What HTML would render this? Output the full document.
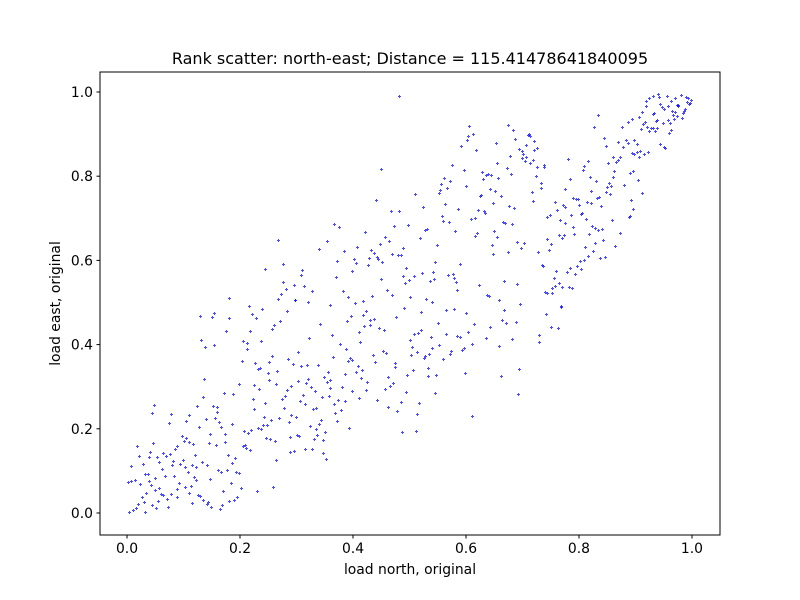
<!DOCTYPE html>
<html><head><meta charset="utf-8"><style>
html,body{margin:0;padding:0;background:#fff;}
svg{display:block;font-family:"DejaVu Sans","Liberation Sans",sans-serif;}
</style></head><body>
<svg id="chart" width="800" height="600" viewBox="0 0 800 600" xmlns="http://www.w3.org/2000/svg">
<rect x="0" y="0" width="800" height="600" fill="#fff"/>
<text x="410" y="64" font-size="16" text-anchor="middle" fill="#000">Rank scatter: north-east; Distance = 115.41478641840095</text>
<g id="points"></g>
<g id="axes"></g>
<text x="410" y="574" font-size="13.9" text-anchor="middle" fill="#000">load north, original</text>
<text transform="translate(60,303.5) rotate(-90)" font-size="13.9" text-anchor="middle" fill="#000">load east, original</text>
</svg>
<script>
var xTicks = [0, 0.2, 0.4, 0.6, 0.8, 1.0];
var yTicks = [0, 0.2, 0.4, 0.6, 0.8, 1.0];
var tickLabels = ["0.0", "0.2", "0.4", "0.6", "0.8", "1.0"];
var xs = [0.004,0.011,0.017,0.020,0.032,0.027,0.031,0.035,0.023,0.002,0.008,0.015,0.018,0.022,0.008,0.029,0.032,0.038,0.040,0.044,0.040,0.041,0.047,0.048,0.045,0.051,0.050,0.045,0.052,0.055,0.058,0.061,0.064,0.054,0.058,0.064,0.062,0.068,0.070,0.072,0.073,0.078,0.077,0.082,0.081,0.084,0.089,0.090,0.093,0.094,0.100,0.085,0.090,0.098,0.102,0.106,0.110,0.117,0.075,0.078,0.105,0.110,0.103,0.103,0.109,0.111,0.114,0.116,0.116,0.121,0.119,0.123,0.123,0.127,0.130,0.133,0.136,0.142,0.142,0.144,0.147,0.150,0.128,0.125,0.135,0.137,0.130,0.131,0.139,0.151,0.155,0.155,0.153,0.161,0.160,0.156,0.140,0.163,0.167,0.147,0.174,0.146,0.158,0.174,0.162,0.167,0.178,0.179,0.186,0.192,0.193,0.199,0.185,0.171,0.169,0.165,0.181,0.190,0.195,0.202,0.186,0.172,0.188,0.199,0.176,0.181,0.204,0.206,0.213,0.213,0.217,0.222,0.229,0.240,0.218,0.238,0.227,0.232,0.236,0.252,0.257,0.250,0.252,0.266,0.264,0.225,0.234,0.224,0.225,0.245,0.243,0.255,0.270,0.208,0.215,0.220,0.232,0.238,0.241,0.248,0.206,0.209,0.211,0.218,0.247,0.254,0.263,0.264,0.231,0.259,0.257,0.261,0.271,0.284,0.286,0.294,0.303,0.309,0.319,0.339,0.323,0.342,0.363,0.298,0.321,0.360,0.291,0.284,0.280,0.275,0.278,0.292,0.300,0.287,0.303,0.312,0.307,0.316,0.318,0.321,0.326,0.333,0.346,0.330,0.335,0.324,0.335,0.340,0.344,0.337,0.332,0.347,0.351,0.289,0.301,0.305,0.289,0.296,0.316,0.328,0.347,0.353,0.349,0.354,0.356,0.361,0.360,0.358,0.367,0.369,0.372,0.374,0.379,0.381,0.386,0.386,0.394,0.400,0.406,0.410,0.415,0.416,0.411,0.424,0.426,0.378,0.388,0.392,0.395,0.399,0.365,0.390,0.397,0.404,0.418,0.411,0.413,0.418,0.420,0.424,0.431,0.431,0.438,0.447,0.455,0.436,0.439,0.454,0.459,0.443,0.457,0.463,0.466,0.471,0.463,0.475,0.475,0.477,0.491,0.478,0.485,0.487,0.494,0.496,
0.483,0.510,0.525,0.498,0.531,0.528,0.519,0.489,0.485,0.549,0.546,0.494,0.489,0.509,0.500,0.493,0.523,0.542,0.544,0.537,0.502,0.530,0.540,0.569,0.578,0.579,0.583,0.591,0.585,0.581,0.586,0.571,0.560,0.559,0.564,0.553,0.555,0.556,0.567,0.562,0.572,0.576,0.592,0.603,0.605,0.607,0.613,0.618,0.597,0.601,0.610,0.617,0.622,0.626,0.628,0.629,0.631,0.636,0.640,0.645,0.643,0.652,0.648,0.657,0.656,0.654,0.663,0.633,0.634,0.620,0.617,0.650,0.656,0.647,0.649,0.624,0.638,0.642,0.659,0.668,0.675,0.666,0.670,0.682,0.677,0.686,0.673,0.681,0.678,0.675,0.684,0.687,0.694,0.700,0.702,0.707,0.705,0.700,0.707,0.711,0.714,0.712,0.721,0.726,0.722,0.714,0.719,0.726,0.739,0.739,0.725,0.733,0.733,0.718,0.719,0.691,0.703,0.698,0.691,0.696,0.728,0.735,0.737,0.744,0.748,0.751,0.744,0.749,0.758,0.762,0.767,0.765,0.770,0.774,0.777,0.776,0.772,0.786,0.790,0.795,0.799,0.801,0.804,0.806,0.813,0.790,0.792,0.781,0.785,0.777,0.808,0.809,0.816,0.820,0.815,0.822,0.822,0.831,0.840,0.836,0.833,0.818,0.824,0.829,0.834,0.841,0.829,0.812,0.826,0.817,0.810,0.803,0.797,0.804,0.793,0.785,0.779,0.760,0.757,0.765,0.770,0.758,0.753,0.740,0.745,0.754,0.769,0.783,0.788,0.838,0.847,0.843,0.859,0.864,0.873,0.834,0.827,0.845,0.849,0.853,0.861,0.870,0.878,0.877,0.888,0.894,0.884,0.888,0.899,0.903,0.894,0.898,0.903,0.909,0.916,0.923,0.907,0.896,0.891,0.905,0.880,0.873,0.870,0.866,0.863,0.861,0.854,0.857,0.850,0.849,0.855,0.912,0.893,0.896,0.891,0.889,0.907,0.912,0.911,0.914,0.917,0.921,0.925,0.929,0.936,0.932,0.939,0.919,0.919,0.925,0.932,0.940,0.942,0.956,0.971,0.981,0.990,0.994,0.992,1.000,0.997,0.995,0.963,0.944,0.948,0.951,0.958,0.974,0.977,0.976,0.965,0.970,0.967,0.974,0.983,0.988,0.986,0.985,0.932,0.933,0.939,0.937,0.949,0.958,0.969,0.962,0.964,0.960,0.944,0.951,0.953,
0.450,0.441,0.468,0.482,0.473,0.367,0.376,0.422,0.457,0.464,0.448,0.268,0.355,0.340,0.385,0.408,0.432,0.438,0.470,0.480,0.402,0.429,0.443,0.445,0.452,0.406,0.427,0.372,0.245,0.277,0.310,0.309,0.399,0.370,0.450,0.277,0.296,0.314,0.282,0.328,0.273,0.269,0.298,0.383,0.392,0.434,0.461,0.470,0.182,
0.521,0.565,0.580,0.601,0.668,0.742,0.769,0.551,0.615,0.643,0.664,0.671,0.689,0.751,0.763,0.731,0.730,0.509,0.516,0.521,0.565,0.604,0.539,0.585,0.590,0.636,0.682,0.502,0.505,0.541,0.553,0.611,0.660,0.514,0.503,0.535,0.527,0.528,0.574,0.572,0.594,0.597,0.560,0.507,0.533,0.533,0.548,0.599,0.663,0.695,0.546,0.693,0.517,0.514,0.611,0.512];
var ys = [0.001,0.006,0.011,0.021,0.002,0.037,0.025,0.047,0.068,0.073,0.074,0.078,0.157,0.135,0.111,0.116,0.092,0.092,0.075,0.066,0.131,0.144,0.165,0.256,0.237,0.082,0.054,0.018,0.010,0.028,0.057,0.044,0.041,0.132,0.120,0.141,0.104,0.086,0.134,0.032,0.013,0.044,0.140,0.123,0.112,0.086,0.036,0.055,0.070,0.116,0.125,0.150,0.158,0.181,0.169,0.177,0.167,0.163,0.213,0.234,0.218,0.232,0.108,0.060,0.097,0.047,0.063,0.113,0.023,0.137,0.084,0.078,0.107,0.041,0.039,0.120,0.030,0.113,0.021,0.025,0.080,0.013,0.203,0.253,0.274,0.318,0.467,0.410,0.393,0.465,0.473,0.398,0.253,0.251,0.239,0.225,0.222,0.214,0.203,0.186,0.186,0.165,0.161,0.167,0.101,0.097,0.101,0.137,0.118,0.130,0.097,0.094,0.070,0.051,0.018,0.009,0.028,0.030,0.037,0.059,0.211,0.284,0.282,0.306,0.432,0.462,0.360,0.408,0.403,0.389,0.491,0.472,0.462,0.484,0.432,0.408,0.356,0.341,0.344,0.358,0.372,0.332,0.315,0.336,0.306,0.303,0.294,0.270,0.246,0.260,0.227,0.220,0.225,0.194,0.189,0.196,0.201,0.199,0.208,0.208,0.158,0.161,0.154,0.149,0.177,0.175,0.170,0.125,0.051,0.061,0.436,0.446,0.455,0.479,0.365,0.353,0.382,0.349,0.351,0.351,0.415,0.448,0.422,0.504,0.500,0.493,0.301,0.292,0.277,0.270,0.249,0.232,0.227,0.215,0.313,0.280,0.265,0.258,0.308,0.318,0.299,0.289,0.275,0.246,0.249,0.206,0.199,0.211,0.220,0.184,0.175,0.173,0.192,0.180,0.184,0.182,0.144,0.146,0.151,0.151,0.142,0.127,0.322,0.310,0.334,0.314,0.296,0.277,0.258,0.237,0.218,0.268,0.244,0.299,0.329,0.265,0.201,0.289,0.334,0.348,0.320,0.339,0.272,0.291,0.310,0.401,0.389,0.360,0.367,0.363,0.370,0.455,0.467,0.498,0.503,0.429,0.405,0.470,0.443,0.479,0.458,0.446,0.460,0.439,0.434,0.375,0.358,0.384,0.379,0.268,0.294,0.322,0.301,0.308,0.251,0.356,0.346,0.465,0.486,0.241,0.263,0.192,0.287,0.327,
0.990,0.757,0.726,0.683,0.674,0.671,0.652,0.629,0.612,0.636,0.595,0.581,0.562,0.562,0.552,0.546,0.569,0.572,0.555,0.550,0.512,0.507,0.500,0.564,0.567,0.557,0.548,0.591,0.529,0.669,0.721,0.690,0.693,0.705,0.733,0.759,0.766,0.781,0.771,0.795,0.788,0.826,0.871,0.885,0.895,0.919,0.899,0.861,0.814,0.776,0.698,0.700,0.719,0.752,0.755,0.809,0.793,0.802,0.805,0.802,0.769,0.764,0.735,0.795,0.830,0.878,0.752,0.716,0.712,0.664,0.657,0.669,0.655,0.636,0.614,0.541,0.517,0.515,0.505,0.550,0.619,0.690,0.688,0.686,0.728,0.723,0.819,0.805,0.847,0.921,0.909,0.887,0.864,0.859,0.852,0.845,0.836,0.843,0.874,0.897,0.895,0.900,0.883,0.866,0.861,0.829,0.838,0.821,0.826,0.821,0.800,0.783,0.771,0.762,0.740,0.643,0.640,0.629,0.543,0.496,0.619,0.588,0.586,0.650,0.624,0.638,0.702,0.707,0.738,0.719,0.695,0.660,0.653,0.660,0.688,0.726,0.731,0.707,0.747,0.745,0.745,0.731,0.710,0.712,0.698,0.679,0.662,0.840,0.793,0.769,0.814,0.824,0.835,0.797,0.738,0.736,0.764,0.788,0.728,0.750,0.747,0.662,0.681,0.676,0.672,0.674,0.641,0.631,0.621,0.610,0.600,0.598,0.586,0.579,0.567,0.581,0.572,0.574,0.557,0.545,0.536,0.538,0.534,0.524,0.522,0.522,0.491,0.536,0.534,0.605,0.607,0.648,0.695,0.633,0.664,0.945,0.916,0.890,0.871,0.830,0.845,0.880,0.868,0.916,0.928,0.935,0.885,0.878,0.885,0.875,0.854,0.852,0.857,0.859,0.852,0.857,0.845,0.812,0.807,0.790,0.778,0.845,0.838,0.833,0.812,0.797,0.783,0.776,0.774,0.762,0.757,0.759,0.743,0.721,0.704,0.702,0.940,0.952,0.911,0.923,0.928,0.916,0.907,0.914,0.907,0.914,0.914,0.966,0.978,0.985,0.990,0.993,0.988,0.990,0.985,0.992,0.987,0.985,0.975,0.980,0.973,0.971,0.978,0.971,0.964,0.959,0.966,0.968,0.968,0.966,0.954,0.952,0.945,0.942,0.937,0.959,0.954,0.949,0.947,0.950,0.933,0.931,0.926,0.933,0.935,0.926,0.909,0.902,0.876,0.868,0.866,
0.816,0.743,0.715,0.715,0.681,0.686,0.679,0.667,0.655,0.645,0.638,0.648,0.645,0.626,0.622,0.631,0.624,0.617,0.614,0.612,0.603,0.605,0.607,0.603,0.595,0.593,0.588,0.598,0.579,0.591,0.576,0.565,0.574,0.560,0.555,0.548,0.541,0.539,0.531,0.526,0.519,0.508,0.505,0.525,0.512,0.515,0.529,0.517,0.510,
0.477,0.481,0.484,0.474,0.481,0.472,0.489,0.451,0.448,0.441,0.458,0.451,0.453,0.441,0.439,0.422,0.405,0.424,0.427,0.434,0.424,0.429,0.417,0.420,0.417,0.415,0.413,0.410,0.394,0.391,0.398,0.401,0.396,0.382,0.374,0.377,0.367,0.371,0.384,0.377,0.386,0.391,0.365,0.339,0.344,0.325,0.327,0.332,0.325,0.341,0.284,0.282,0.260,0.234,0.230,0.194];

var L = 100, R = 720, T = 72, B = 535;
var xMin = -0.0478, xMax = 1.0496, yMin = -0.0523, yMax = 1.0475;
function sx(v){ return L + (v - xMin) / (xMax - xMin) * (R - L); }
function sy(v){ return B - (v - yMin) / (yMax - yMin) * (B - T); }
var NS = "http://www.w3.org/2000/svg";
var pg = document.getElementById("points");
var n = Math.min(xs.length, ys.length);
for (var i = 0; i < n; i++) {
  var cx = Math.floor(sx(xs[i])) + 0.5, cy = Math.floor(sy(ys[i])) + 0.5;
  var p = document.createElementNS(NS, "path");
  p.setAttribute("d", "M" + (cx - 1.5) + " " + cy + "h3M" + cx + " " + (cy - 1.5) + "v3");
  p.setAttribute("stroke", "#0000ff");
  p.setAttribute("stroke-opacity", "0.7");
  p.setAttribute("stroke-width", "1");
  p.setAttribute("fill", "none");
  
  
  pg.appendChild(p);
}
var ag = document.getElementById("axes");
var frame = document.createElementNS(NS, "rect");
frame.setAttribute("x", L); frame.setAttribute("y", T);
frame.setAttribute("width", R - L); frame.setAttribute("height", B - T);
frame.setAttribute("fill", "none"); frame.setAttribute("stroke", "#000"); frame.setAttribute("stroke-width", "1");


ag.appendChild(frame);
for (var j = 0; j < xTicks.length; j++) {
  var tx = sx(xTicks[j]);
  var tl = document.createElementNS(NS, "line");
  tl.setAttribute("x1", tx); tl.setAttribute("x2", tx); tl.setAttribute("y1", B); tl.setAttribute("y2", B + 3.5);
  tl.setAttribute("stroke", "#000");
  
  
  ag.appendChild(tl);
  var tt = document.createElementNS(NS, "text");
  tt.setAttribute("x", tx); tt.setAttribute("y", B + 18); tt.setAttribute("font-size", "13.9");
  tt.setAttribute("text-anchor", "middle");
  tt.textContent = tickLabels[j];
  
  
  ag.appendChild(tt);
}
for (var k = 0; k < yTicks.length; k++) {
  var ty = sy(yTicks[k]);
  var yl = document.createElementNS(NS, "line");
  yl.setAttribute("x1", L - 3.5); yl.setAttribute("x2", L); yl.setAttribute("y1", ty); yl.setAttribute("y2", ty);
  yl.setAttribute("stroke", "#000");
  
  
  ag.appendChild(yl);
  var yt = document.createElementNS(NS, "text");
  yt.setAttribute("x", L - 7); yt.setAttribute("y", ty + 5); yt.setAttribute("font-size", "13.9");
  yt.setAttribute("text-anchor", "end");
  yt.textContent = tickLabels[k];
  
  
  ag.appendChild(yt);
}
</script>
</body></html>
